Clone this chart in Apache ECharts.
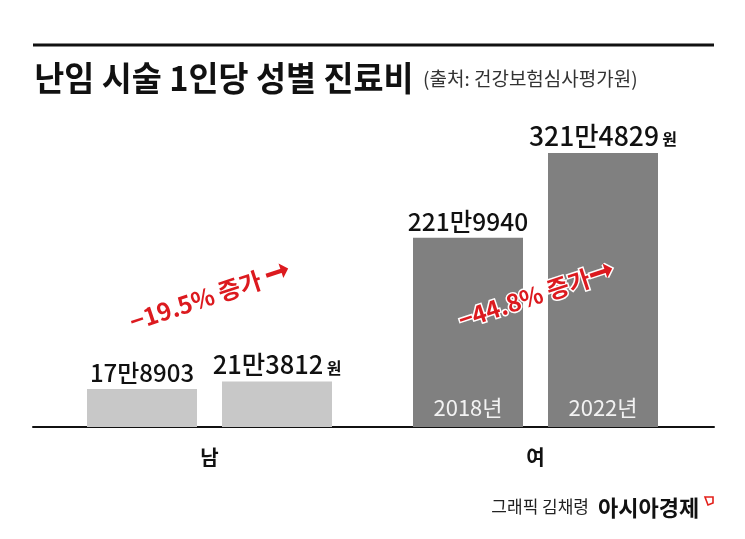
<!DOCTYPE html>
<html><head><meta charset="utf-8">
<script src="https://cdn.jsdelivr.net/npm/echarts@6/dist/echarts.min.js"></script>
<style>html,body{margin:0;padding:0;background:#fff}#c{width:745px;height:539px}</style>
</head><body><div id="c"></div>
<script>
const groups = ['남', '여'];
const years = ['2018년', '2022년'];
const maleValues = [178903, 213812];
const femaleValues = [2219940, 3214829];
const changeLabels = ['19.5% 증가', '44.8% 증가'];
const unit = '원';
const titleText = '난임 시술 1인당 성별 진료비';
const sourceText = '(출처: 건강보험심사평가원)';
const creditText = '그래픽 김채령';
const brandText = '아시아경제';

const KR = "'Noto Sans CJK KR', sans-serif";

function man(v) {
  const hi = Math.floor(v / 10000), lo = v % 10000;
  return hi + '만' + String(lo).padStart(4, '0');
}
function makeData(values, sizes) {
  return values.map((v, i) => ({
    value: v,
    label: {
      show: true, position: 'top', distance: 4,
      formatter: i === values.length - 1 ? '{v|' + man(v) + '} {u|' + unit + '}' : '{v|' + man(v) + '}',
      rich: {
        v: { fontFamily: KR, fontSize: sizes[i], color: '#111', fontWeight: 500 },
        u: { fontFamily: KR, fontSize: 16, color: '#111', fontWeight: 'bold', padding: [6, 0, 0, 0] }
      }
    }
  }));
}

const GT = 128.7, GB = 112;
const chart = echarts.init(document.getElementById('c'), null, { renderer: 'canvas' });
chart.setOption({
  animation: false,
  backgroundColor: '#fff',
  grid: [
    { left: 74.5, width: 270, top: GT, bottom: GB },
    { left: 400.5, width: 270, top: GT, bottom: GB },
    { left: 33, right: 31, top: GT, bottom: GB }
  ],
  xAxis: [
    { gridIndex: 0, type: 'category', data: years, axisLine: { show: false }, axisTick: { show: false },
      axisLabel: { show: false }, name: groups[0], nameLocation: 'middle', nameGap: 20,
      nameTextStyle: { fontFamily: KR, fontSize: 20, fontWeight: 'bold', color: '#111', verticalAlign: 'top' } },
    { gridIndex: 1, type: 'category', data: years, z: 10, axisLine: { show: false }, axisTick: { show: false },
      axisLabel: { inside: true, margin: 8, color: '#f2f2f2', fontFamily: KR, fontSize: 22 },
      name: groups[1], nameLocation: 'middle', nameGap: 20,
      nameTextStyle: { fontFamily: KR, fontSize: 20, fontWeight: 'bold', color: '#111', verticalAlign: 'top' } },
    { gridIndex: 2, type: 'value', min: 0, max: 1, axisLine: { show: true, onZero: false, lineStyle: { color: '#111', width: 2 } },
      axisTick: { show: false }, axisLabel: { show: false }, splitLine: { show: false } }
  ],
  yAxis: [
    { gridIndex: 0, type: 'value', min: 0, max: 1400000, show: false },
    { gridIndex: 1, type: 'value', min: 0, max: 3500000, show: false },
    { gridIndex: 2, type: 'value', min: 0, max: 1, show: false }
  ],
  series: [
    { type: 'bar', xAxisIndex: 0, yAxisIndex: 0, barWidth: 110, itemStyle: { color: '#c8c8c8' },
      data: makeData(maleValues, [24, 25.5]) },
    { type: 'bar', xAxisIndex: 1, yAxisIndex: 1, barWidth: 110, itemStyle: { color: '#808080' },
      data: makeData(femaleValues, [24.5, 26.5]) }
  ],
  graphic: [
    { type: 'line', shape: { x1: 33, y1: 45, x2: 714, y2: 45 }, style: { stroke: '#111', lineWidth: 3 } },
    { type: 'text', x: 33, y: 78, scaleX: 0.96, originX: 33,
      style: { text: titleText, fontFamily: KR, fontSize: 34, fontWeight: 'bold', fill: '#111', verticalAlign: 'middle', align: 'left' } },
    { type: 'text', x: 423, y: 79,
      style: { text: sourceText, fontFamily: KR, fontSize: 19, fill: '#333', verticalAlign: 'middle', align: 'left' } },
    { type: 'text', x: 210, y: 296, rotation: 0.32,
      style: { text: '−' + changeLabels[0] + ' {a|➞}', fontFamily: KR, fontSize: 24, fontWeight: 'bold', fill: '#dc1a1f',
        rich: { a: { fontSize: 30, fontWeight: 'bold', fill: '#dc1a1f' } },
        align: 'center', verticalAlign: 'middle' } },
    { type: 'text', x: 536, y: 295, rotation: 0.32, z: 20,
      style: { text: '−' + changeLabels[1] + '{a|➞}', fontFamily: KR, fontSize: 24, fontWeight: 'bold', fill: '#dc1a1f',
        stroke: '#fff', lineWidth: 3,
        rich: { a: { fontSize: 30, fontWeight: 'bold', fill: '#dc1a1f', stroke: '#fff', lineWidth: 3 } },
        align: 'center', verticalAlign: 'middle' } },
    { type: 'text', x: 589, y: 507,
      style: { text: creditText, fontFamily: KR, fontSize: 17, fill: '#222', align: 'right', verticalAlign: 'middle' } },
    { type: 'text', x: 598, y: 508,
      style: { text: brandText, fontFamily: KR, fontSize: 22, fontWeight: 'bold', fill: '#111', align: 'left', verticalAlign: 'middle' } },
    { type: 'polygon', shape: { points: [[705, 497], [713, 497], [713, 503], [708, 505]] },
      style: { fill: 'none', stroke: '#e3201b', lineWidth: 1.6 } }
  ]
});
</script></body></html>
